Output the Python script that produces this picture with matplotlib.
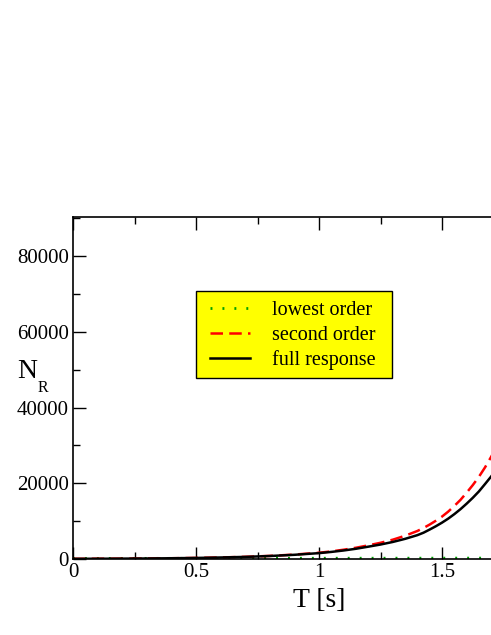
import matplotlib
matplotlib.use("Agg")
import matplotlib.pyplot as plt
from matplotlib.patches import Rectangle

# values
t_vals = [0.0, 0.1, 0.2, 0.3, 0.4, 0.5, 0.6, 0.7, 0.8, 0.9, 1.0, 1.05, 1.1, 1.15, 1.2,
          1.25, 1.3, 1.35, 1.4, 1.425, 1.45, 1.475, 1.5, 1.525, 1.55, 1.575, 1.6,
          1.625, 1.65, 1.675, 1.7, 1.725, 1.75, 1.8]
full_resp = [50, 70, 100, 140, 200, 280, 400, 560, 790, 1110, 1550, 1870, 2250, 2700, 3250,
             3820, 4500, 5320, 6300, 6950, 7780, 8650, 9600, 10650, 11840, 13150, 14600,
             16150, 17840, 19800, 21800, 24000, 26400, 32000]
second_ord = [50, 70, 100, 140, 200, 285, 410, 575, 820, 1170, 1650, 2010, 2450, 2970, 3600,
              4280, 5100, 6140, 7400, 8200, 9100, 10100, 11200, 12500, 14000, 15600, 17500,
              19500, 21700, 24200, 27000, 30000, 33500, 41500]
lowest_ord = [150, 155, 160, 165, 170, 175, 180, 185, 190, 195, 200, 200, 205, 205, 210,
              210, 215, 215, 220, 220, 220, 225, 225, 225, 230, 230, 230,
              235, 235, 235, 240, 240, 240, 245]

x_ticks = [0, 0.5, 1, 1.5]
x_ticklabels = ["0", "0.5", "1", "1.5"]
y_ticks = [0, 20000, 40000, 60000, 80000]

plt.rcParams["font.family"] = ["Liberation Serif", "DejaVu Serif"]

W, H = 491, 635
fig = plt.figure(figsize=(W / 100, H / 100), dpi=100)
ax = fig.add_axes([73 / W, (H - 559) / H, 492 / W, (559 - 217) / H])

ax.plot(t_vals, lowest_ord, color="#00a000", lw=2.0, ls=(0, (0.7, 3.6)), label="lowest order")
ax.plot(t_vals, second_ord, color="red", lw=1.8, ls=(0, (5, 2.5)), label="second order")
ax.plot(t_vals, full_resp, color="black", lw=1.8, label="full response")

ax.set_xlim(0, 2)
ax.set_ylim(0, 90300)
ax.set_xticks(x_ticks)
ax.set_xticklabels(x_ticklabels)
ax.set_yticks(y_ticks)
ax.set_xticks([0.25, 0.75, 1.25, 1.75], minor=True)
ax.set_yticks([10000, 30000, 50000, 70000, 90000], minor=True)
ax.tick_params(which="both", direction="in", top=True, right=True, labelsize=15, width=1)
ax.tick_params(which="major", length=9, pad=3)
ax.tick_params(which="minor", length=5)
for s in ax.spines.values():
    s.set_linewidth(1.2)

fig.text(319 / W, 1 - 607 / H, "T [s]", fontsize=20, ha="center", va="baseline")
# y label N_R, subscript drawn as its own smaller text
fig.text(17 / W, 1 - 378 / H, "N", fontsize=20, ha="left", va="baseline")
fig.text(38 / W, 1 - 392 / H, "R", fontsize=11.5, ha="left", va="baseline")

# yellow legend box
box = Rectangle((196 / W, 1 - 378 / H), 196 / W, 87 / H, transform=fig.transFigure,
                facecolor="yellow", edgecolor="black", lw=1.0, zorder=4, clip_on=False)
ax.add_patch(box)
leg = ax.legend(loc="upper left", bbox_to_anchor=(210 / W, 1 - 301 / H),
                bbox_transform=fig.transFigure, fontsize=14.5, frameon=False,
                handlelength=2.0, handletextpad=1.1, labelspacing=0.28,
                borderpad=0, borderaxespad=0)
leg.set_zorder(5)

fig.savefig("out.png", dpi=100)
